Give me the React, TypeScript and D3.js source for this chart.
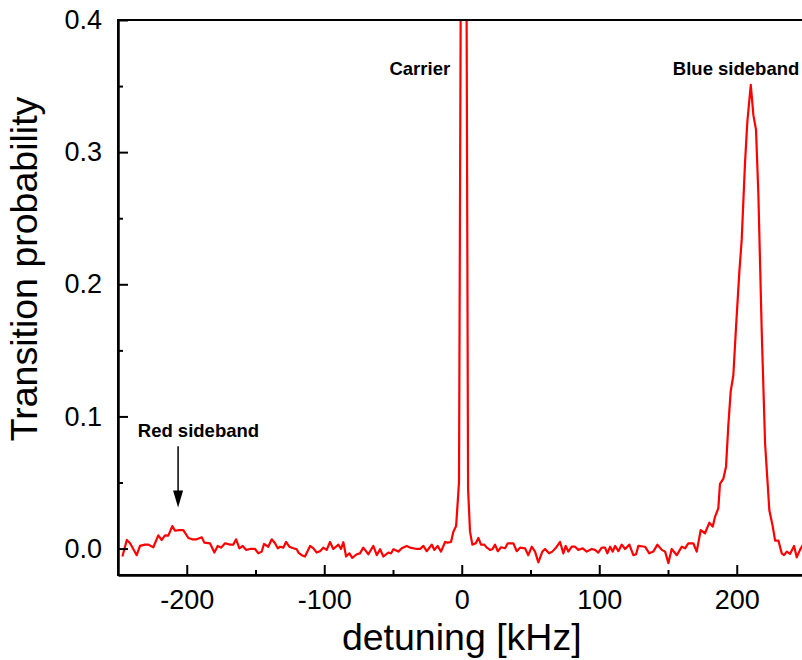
import React, { useRef, useEffect } from "react";
import * as d3 from "d3";

// detuning in kHz
const detuning = [
  -246.8, -243.6, -241.2, -236.4, -234.0, -230.3, -227.9, -224.3, -220.7, -218.2,
  -215.8, -213.4, -210.5, -208.5, -205.6, -202.5, -198.8, -196.1, -192.7, -189.1,
  -187.2, -183.1, -179.9, -177.5, -175.1, -172.1, -168.5, -166.1, -164.1, -161.7,
  -159.3, -156.9, -154.0, -150.3, -147.9, -145.5, -143.8, -140.7, -138.2, -135.8,
  -133.8, -132.1, -129.7, -127.8, -125.4, -122.5, -120.0, -118.8, -116.4, -114.0,
  -110.3, -107.9, -105.5, -103.1, -100.7, -98.2, -95.8, -93.4, -89.7, -87.8,
  -86.1, -84.1, -81.7, -79.6, -76.4, -74.0, -71.6, -67.9, -64.3, -61.8,
  -59.4, -57.0, -53.4, -51.4, -49.7, -46.1, -43.6, -40.0, -37.6, -32.7,
  -30.3, -27.9, -25.5, -21.8, -19.9, -17.5, -15.1, -12.1, -10.2, -7.8,
  -6.1, -4.1, -2.0, 0.3, 2.6, 4.6, 6.0, 7.7, 10.2, 12.1,
  14.0, 16.4, 18.2, 20.6, 22.3, 24.2, 26.2, 28.6, 31.5, 33.5,
  37.5, 40.0, 42.4, 46.0, 48.4, 50.9, 53.3, 55.7, 58.6, 60.6,
  63.5, 65.9, 69.1, 71.5, 73.9, 75.6, 77.5, 80.0, 82.4, 84.8,
  88.0, 90.9, 94.5, 96.9, 99.3, 101.8, 104.2, 105.9, 107.9, 109.8,
  111.5, 113.9, 116.4, 118.8, 121.9, 124.8, 126.8, 128.4, 133.3, 136.4,
  139.3, 142.3, 145.5, 147.9, 150.3, 152.7, 156.4, 160.0, 162.4, 164.8,
  168.4, 170.9, 173.8, 176.9, 180.1, 182.5, 184.2, 186.6, 187.8, 190.3,
  192.2, 193.9, 195.6, 197.5, 199.5, 201.9, 203.6, 206.0, 207.7, 210.2,
  212.1, 214.0, 215.7, 218.2, 220.6, 223.7, 226.2, 227.9, 230.3, 232.7,
  234.4, 236.4, 238.8, 241.7, 243.6, 246.0, 248.2,
];

const probability = [
  -0.006, 0.0065, 0.004, -0.005, 0.002, 0.003, 0.003, 0.001, 0.010, 0.0065,
  0.010, 0.0098, 0.017, 0.0135, 0.014, 0.014, 0.008, 0.007, 0.007, 0.0085,
  0.0045, 0.004, -0.003, 0.002, 0.0007, 0.004, 0.003, 0.003, 0.007, 0.0002,
  0.002, -0.001, -0.0003, -0.0003, -0.0036, -0.0023, 0.0035, 0.0014, 0.007, 0.004,
  0.0002, 0.0014, 0.0007, 0.005, 0.0014, 0.0002, -0.0005, -0.003, -0.005, -0.006,
  0.002, 0.0002, -0.003, -0.002, 0.0007, -0.001, 0.005, -0.0003, 0.003, -0.0003,
  0.0048, -0.006, -0.0036, -0.007, -0.0043, -0.0036, 0.0007, -0.0043, 0.002, -0.005,
  -0.0005, -0.006, -0.003, -0.0036, -0.0005, -0.0023, 0.0002, 0.002, 0.0007, -0.0003,
  -0.0003, 0.002, -0.002, 0.003, -0.001, 0.002, -0.0023, 0.005, 0.0045, 0.005,
  0.0128, 0.017, 0.05, 0.72, 0.72, 0.045, 0.013, 0.003, 0.004, 0.008,
  0.003, 0.003, 0.0007, -0.001, -0.0005, 0.003, -0.002, 0.001, 0.0002, 0.004,
  0.004, -0.002, 0.0007, 0.0002, -0.005, 0.0014, -0.0023, -0.0104, -0.0023, -0.0003,
  -0.0036, -0.0023, 0.0014, 0.005, -0.0036, 0.002, -0.0023, 0.0014, 0.0014, -0.001,
  0.0002, -0.0023, -0.0003, -0.001, -0.003, 0.0007, 0.0007, -0.0036, 0.0014, -0.0023,
  0.002, -0.002, 0.003, -0.0003, 0.003, -0.005, -0.0043, 0.002, 0.0014, -0.0036,
  -0.0023, 0.003, -0.001, -0.0023, -0.011, -0.0003, -0.005, 0.0014, 0.0002, 0.004,
  0.004, -0.0023, 0.014, 0.0116, 0.0196, 0.0166, 0.024, 0.0305, 0.049, 0.053,
  0.062, 0.0936, 0.119, 0.131, 0.168, 0.2096, 0.2336, 0.2917, 0.323, 0.351,
  0.328, 0.317, 0.269, 0.163, 0.0797, 0.029, 0.0166, 0.006, 0.006, -0.0036,
  -0.005, -0.0023, -0.004, 0.002, -0.0066, -0.001, 0.003,
];

const xMajorTicks = [-200, -100, 0, 100, 200];
const xMinorTicks = [-150, -50, 50, 150];
const yMajorTicks = [0, 0.1, 0.2, 0.3, 0.4];
const yMinorTicks = [0.05, 0.15, 0.25, 0.35];

const peakLabels = ["Carrier", "Blue sideband", "Red sideband"];
const peakLabelX = [-30.5, 199.5, -191.5];
const peakLabelY = [0.3585, 0.3585, 0.0845];
// arrow pointing at the red sideband
const arrowX = -206.3;
const arrowFrom = 0.0775;
const arrowTo = 0.031;

function DetuningScan() {
  const svgRef = useRef(null);

  useEffect(() => {
    const svg = d3.select(svgRef.current);
    svg.selectAll("*").remove();

    const xScale = d3.scaleLinear().domain([-250, 250]).range([118, 805.5]);
    const yScale = d3.scaleLinear().domain([-0.02, 0.4]).range([575, 20]);
    const font = "'Liberation Sans', Arial, sans-serif";

    svg.append("defs")
      .append("clipPath")
      .attr("id", "plotArea")
      .append("rect")
      .attr("x", xScale(-250))
      .attr("y", yScale(0.4))
      .attr("width", xScale(250) - xScale(-250))
      .attr("height", yScale(-0.02) - yScale(0.4));

    // the curve
    const points = detuning.map((d, i) => [d, probability[i]]);
    const lineGenerator = d3.line()
      .x((d) => xScale(d[0]))
      .y((d) => yScale(d[1]));

    svg.append("path")
      .datum(points)
      .attr("clip-path", "url(#plotArea)")
      .attr("fill", "none")
      .attr("stroke", "#ff0000")
      .attr("stroke-width", 2.2)
      .attr("stroke-linejoin", "round")
      .attr("d", lineGenerator);

    // axes, ticks point inward
    const xAxis = d3.axisBottom(xScale)
      .tickValues(xMajorTicks)
      .tickSizeInner(-10)
      .tickSizeOuter(0)
      .tickPadding(15)
      .tickFormat((d) => String(d));
    const gx = svg.append("g")
      .attr("transform", `translate(0, ${yScale(-0.02)})`)
      .call(xAxis);
    gx.call((g) => g.selectAll("text").attr("font-size", 27).attr("font-family", font).attr("fill", "#000"));

    const xMinor = d3.axisBottom(xScale)
      .tickValues(xMinorTicks)
      .tickSizeInner(-5)
      .tickSizeOuter(0)
      .tickFormat(() => "");
    svg.append("g")
      .attr("transform", `translate(0, ${yScale(-0.02)})`)
      .call(xMinor);

    const yAxis = d3.axisLeft(yScale)
      .tickValues(yMajorTicks)
      .tickSizeInner(-10)
      .tickSizeOuter(0)
      .tickPadding(16)
      .tickFormat(d3.format(".1f"));
    const gy = svg.append("g")
      .attr("transform", `translate(${xScale(-250)}, 0)`)
      .call(yAxis);
    gy.call((g) => g.selectAll("text").attr("font-size", 27).attr("font-family", font).attr("fill", "#000"));

    const yMinor = d3.axisLeft(yScale)
      .tickValues(yMinorTicks)
      .tickSizeInner(-5)
      .tickSizeOuter(0)
      .tickFormat(() => "");
    svg.append("g")
      .attr("transform", `translate(${xScale(-250)}, 0)`)
      .call(yMinor);

    svg.selectAll(".domain, .tick line").attr("stroke", "#000").attr("stroke-width", 2);

    // frame
    svg.append("rect")
      .attr("x", xScale(-250))
      .attr("y", yScale(0.4))
      .attr("width", xScale(250) - xScale(-250))
      .attr("height", yScale(-0.02) - yScale(0.4))
      .attr("fill", "none")
      .attr("stroke", "#000")
      .attr("stroke-width", 2);

    // axis titles
    svg.append("text")
      .attr("x", xScale(0))
      .attr("y", 650)
      .attr("text-anchor", "middle")
      .attr("font-family", font)
      .attr("font-size", 37.5)
      .text("detuning [kHz]");

    svg.append("text")
      .attr("transform", `translate(37, 269) rotate(-90)`)
      .attr("text-anchor", "middle")
      .attr("font-family", font)
      .attr("font-size", 37.5)
      .text("Transition probability");

    // peak labels
    svg.selectAll(".peakLabel")
      .data(peakLabels)
      .join("text")
      .attr("class", "peakLabel")
      .attr("x", (d, i) => xScale(peakLabelX[i]))
      .attr("y", (d, i) => yScale(peakLabelY[i]))
      .attr("text-anchor", "middle")
      .attr("font-family", font)
      .attr("font-weight", "bold")
      .attr("font-size", 18.5)
      .text((d) => d);

    const ax = xScale(arrowX);
    const yTip = yScale(arrowTo);
    svg.append("line")
      .attr("x1", ax)
      .attr("x2", ax)
      .attr("y1", yScale(arrowFrom))
      .attr("y2", yTip - 12)
      .attr("stroke", "#000")
      .attr("stroke-width", 1.5);
    svg.append("path")
      .attr("d", `M${ax - 5},${yTip - 17} L${ax + 5},${yTip - 17} L${ax},${yTip} Z`)
      .attr("fill", "#000");
  }, []);

  return (
    <svg
      ref={svgRef}
      width={802}
      height={660}
      style={{ position: "absolute", left: 0, top: 0, background: "#fff" }}
    />
  );
}

export default function App() {
  return <DetuningScan />;
}
